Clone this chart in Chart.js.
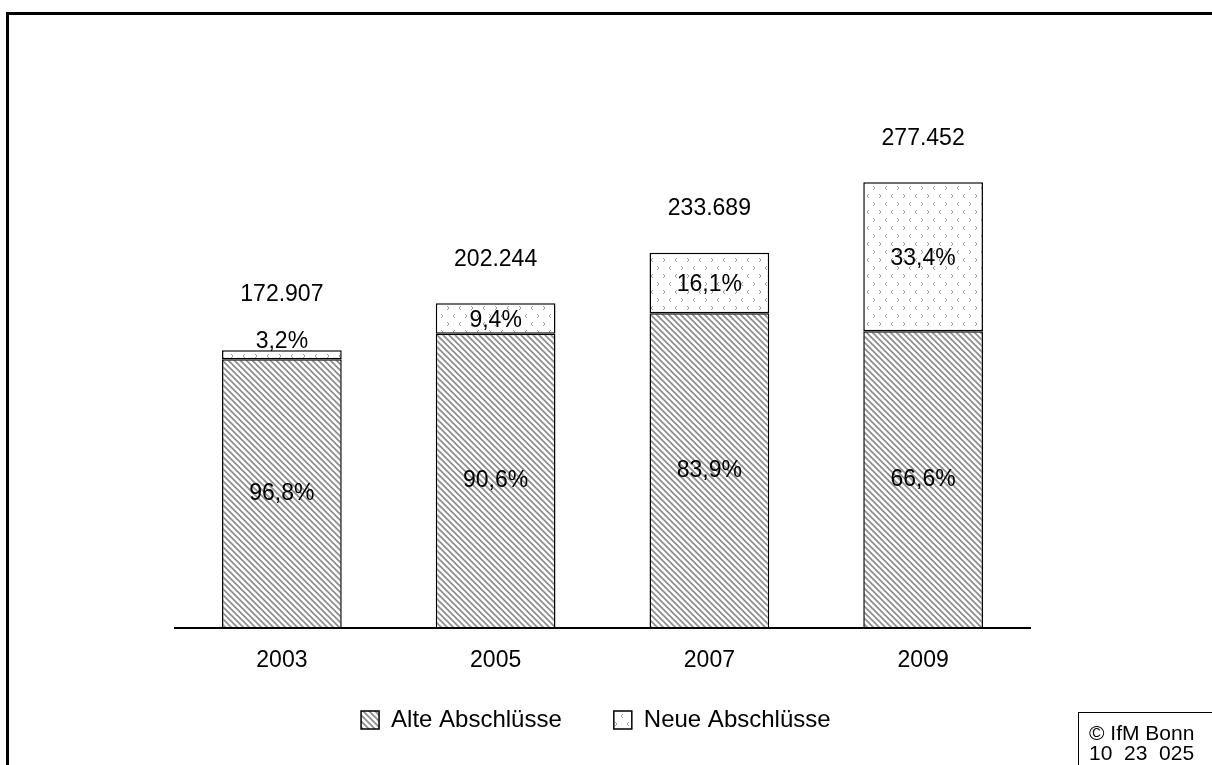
<!DOCTYPE html>
<html>
<head>
<meta charset="utf-8">
<script src="https://cdn.jsdelivr.net/npm/chart.js@4.4.0/dist/chart.umd.min.js"></script>
<style>
body { margin: 0; background: #fff; font-family: "Liberation Sans", Arial, sans-serif; }
#wrap { position: relative; width: 1212px; height: 765px; overflow: hidden; }
#frame { position: absolute; left: 6px; top: 12px; right: -10px; bottom: -10px; border-left: 3px solid #000; border-top: 3px solid #000; }
#copy { position: absolute; left: 1078px; top: 712px; width: 150px; height: 70px; border: 1px solid #000; font-size: 21px; line-height: 20px; padding: 10px 0 0 10px; box-sizing: border-box; }
canvas { position: absolute; left: 0; top: 0; }
</style>
</head>
<body>
<div id="wrap">
  <div id="frame"></div>
  <canvas id="myChart" width="1212" height="765"></canvas>
  <div id="copy">© IfM Bonn<br>10&nbsp; 23&nbsp; 025</div>
</div>
<script>
// data
const years = ["2003", "2005", "2007", "2009"];
const totals = [172907, 202244, 233689, 277452];
const totalLabels = ["172.907", "202.244", "233.689", "277.452"];
const shareOld = [96.8, 90.6, 83.9, 66.6];
const shareNew = [3.2, 9.4, 16.1, 33.4];

const oldValues = totals.map((t, i) => t * shareOld[i] / 100);
const newValues = totals.map((t, i) => t * shareNew[i] / 100);

function fmtPct(v) {
    return v.toFixed(1).replace('.', ',') + '%';
}

// hatch pattern for "Alte"
function makeHatch() {
    var c = document.createElement('canvas');
    c.width = 6; c.height = 6;
    var g = c.getContext('2d');
    g.fillStyle = '#fff';
    g.fillRect(0, 0, 6, 6);
    g.strokeStyle = '#8a8a8a';
    g.lineWidth = 1.6;
    g.beginPath();
    g.moveTo(-1, -1); g.lineTo(7, 7);
    g.moveTo(-7, -1); g.lineTo(1, 7);
    g.moveTo(5, -1); g.lineTo(13, 7);
    g.stroke();
    return g.createPattern(c, 'repeat');
}

// little chevrons for "Neue"
function makeDots() {
    var c = document.createElement('canvas');
    c.width = 24; c.height = 16;
    var g = c.getContext('2d');
    g.fillStyle = '#fff';
    g.fillRect(0, 0, 24, 16);
    g.strokeStyle = '#9a9a9a';
    g.lineWidth = 1;
    function chev(x, y, dir) {
        g.beginPath();
        g.moveTo(x + 2 * dir, y - 2);
        g.lineTo(x, y);
        g.lineTo(x + 2 * dir, y + 2);
        g.stroke();
    }
    chev(3, 4, 1);
    chev(17, 4, -1);
    chev(11, 12, -1);
    chev(21, 12, 1);
    return g.createPattern(c, 'repeat');
}

const labelPlugin = {
    id: 'barLabels',
    afterDatasetsDraw(chart) {
        const ctx = chart.ctx;
        const m0 = chart.getDatasetMeta(0);
        const m1 = chart.getDatasetMeta(1);
        ctx.save();
        ctx.font = '23px "Liberation Sans", Arial, sans-serif';
        ctx.fillStyle = '#000';
        ctx.textAlign = 'center';
        ctx.textBaseline = 'middle';
        years.forEach((y, i) => {
            const b0 = m0.data[i], b1 = m1.data[i];
            const x = b0.x;
            ctx.fillText(fmtPct(shareOld[i]), x, (b0.y + b0.base) / 2);
            const h1 = b1.base - b1.y;
            let top = b1.y - 44;
            if (h1 < 25) {
                ctx.fillText(fmtPct(shareNew[i]), x, b1.y - 9);
                top = b1.y - 56;
            } else {
                ctx.fillText(fmtPct(shareNew[i]), x, (b1.y + b1.base) / 2 + 2);
            }
            ctx.fillText(totalLabels[i], x, top);
        });
        ctx.restore();
    }
};

Chart.defaults.font.family = '"Liberation Sans", Arial, sans-serif';
Chart.defaults.color = '#000';

const ctx = document.getElementById('myChart').getContext('2d');
const myChart = new Chart(ctx, {
    type: 'bar',
    data: {
        labels: years,
        datasets: [{
            label: 'Alte Abschlüsse',
            data: oldValues,
            backgroundColor: makeHatch(),
            borderColor: '#000',
            borderWidth: 1.5,
            borderSkipped: false,
            barPercentage: 0.56,
            categoryPercentage: 1
        }, {
            label: 'Neue Abschlüsse',
            data: newValues,
            backgroundColor: makeDots(),
            borderColor: '#000',
            borderWidth: 1.5,
            borderSkipped: false,
            barPercentage: 0.56,
            categoryPercentage: 1
        }]
    },
    options: {
        responsive: false,
        animation: false,
        layout: {
            padding: { left: 175, right: 182, top: 146, bottom: 23 }
        },
        scales: {
            x: {
                stacked: true,
                grid: { display: false, drawTicks: false },
                border: { display: true, color: '#000', width: 2 },
                ticks: { font: { size: 23 }, padding: 18, color: '#000' },
                afterFit: function (scale) { scale.height += 4; }
            },
            y: {
                stacked: true,
                display: false,
                min: 0,
                max: 300000
            }
        },
        plugins: {
            legend: {
                position: 'bottom',
                labels: {
                    boxWidth: 18,
                    boxHeight: 18,
                    padding: 12,
                    font: { size: 24 },
                    color: '#000',
                    generateLabels: function (chart) {
                        const items = Chart.defaults.plugins.legend.labels.generateLabels(chart);
                        // extra gap between the two entries
                        items[0].text = items[0].text + '      ';
                        items[1].text = items[1].text + '  ';
                        return items;
                    }
                }
            },
            tooltip: { enabled: false }
        }
    },
    plugins: [labelPlugin]
});
</script>
</body>
</html>
